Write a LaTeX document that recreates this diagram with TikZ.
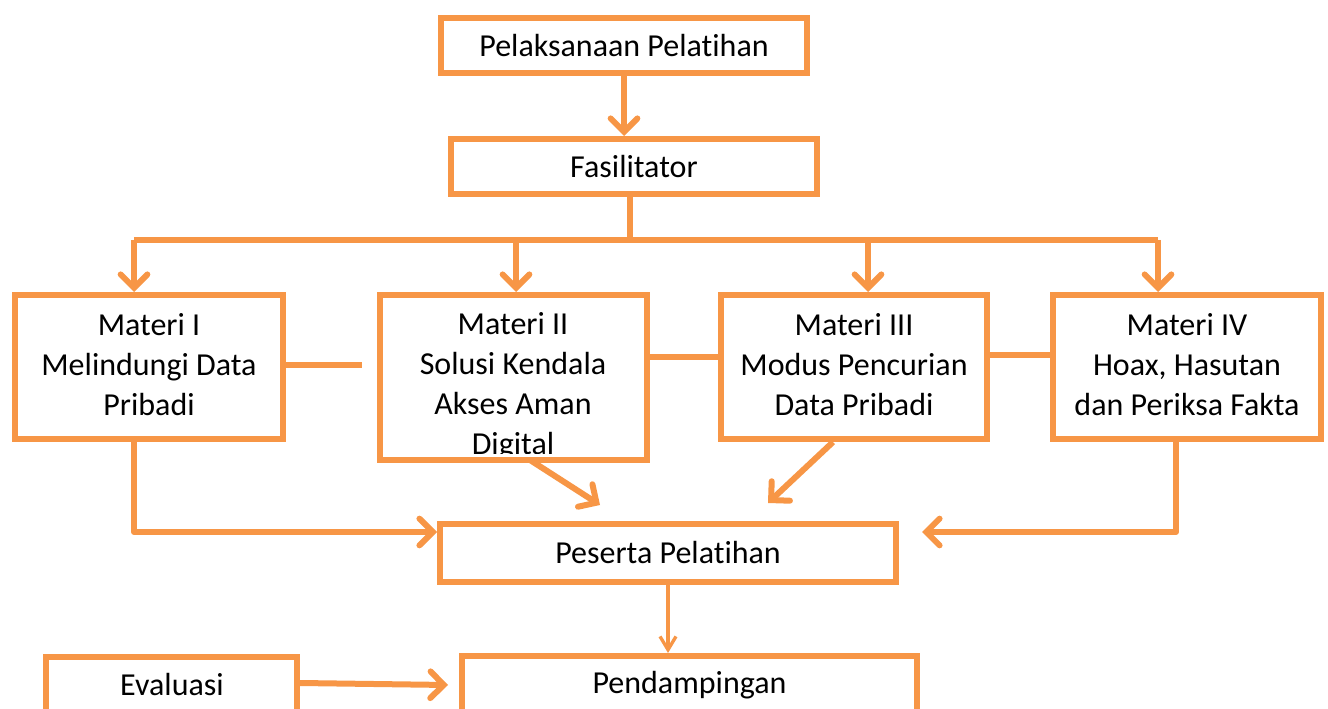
\documentclass[tikz,border=0pt]{standalone}
\usepackage{fontspec}
\setmainfont{Carlito}[Ligatures=NoCommon]
\usetikzlibrary{arrows.meta}
\definecolor{org}{HTML}{F79646}
\begin{document}
\begin{tikzpicture}[x=0.75pt,y=-0.75pt,
  box/.style={draw=org,line width=4.5pt,fill=white,inner sep=0pt,align=center,
    font=\fontsize{24}{30}\selectfont},
  txt/.style={inner sep=0pt,align=center,font=\fontsize{24}{30}\selectfont},
  conn/.style={draw=org,line width=4.5pt,line join=round},
  arr/.style={conn,-{Straight Barb[length=10pt,width=20pt,line cap=round]}},
  thinarr/.style={draw=org,line width=2.5pt,-{Straight Barb[length=10pt,width=12pt]}}]
\useasboundingbox (0,0) rectangle (1328,709);
\clip (0,0) rectangle (1328,709);
% boxes
\node[box,minimum width={366*0.75pt},minimum height={55*0.75pt}] (pel) at (624,45.5) {Pelaksanaan Pelatihan};
\node[box,minimum width={366*0.75pt},minimum height={55*0.75pt}] (fas) at (634,166.5) {Fasilitator};
\node[box,minimum width={268*0.75pt},minimum height={144*0.75pt}] (m1) at (149,367) {};
\node[txt] at (149,365) {Materi I\\Melindungi Data\\Pribadi};
\node[box,minimum width={267*0.75pt},minimum height={165*0.75pt}] (m2) at (513.5,377.5) {};
\begin{scope}
\clip (383,298) rectangle (644,453);
\node[txt] at (513,386) {Materi II\\Solusi Kendala\\Akses Aman\\Digital};
\end{scope}
\node[box,minimum width={266*0.75pt},minimum height={144*0.75pt}] (m3) at (854,367) {};
\node[txt] at (854,365) {Materi III\\Modus Pencurian\\Data Pribadi};
\node[box,minimum width={268*0.75pt},minimum height={144*0.75pt}] (m4) at (1187,367) {};
\node[txt] at (1187,365) {Materi IV\\Hoax, Hasutan\\dan Periksa Fakta};
\node[box,minimum width={456*0.75pt},minimum height={58*0.75pt}] (pes) at (668,553) {Peserta Pelatihan};
\node[box,minimum width={455*0.75pt},minimum height={110*0.75pt},anchor=north] (pend) at (689.5,653) {};
\node[txt] at (689.5,685) {Pendampingan};
\node[box,minimum width={251*0.75pt},minimum height={110*0.75pt},anchor=north] (eva) at (171.5,654) {};
\node[txt] at (172,685) {Evaluasi};
% coordinates
\coordinate (br) at (630,240);
\coordinate (m1r) at (362,365);
\coordinate (d2) at (600,505);
\coordinate (d3) at (768,503);
% connectors
\draw[arr] (pel.south) -- (pel.south |- fas.north);
\draw[conn] (fas.south -| br) -- (br);
\draw[conn] (br) -- (134,240) coordinate (b1);
\draw[conn] (br) -- (1158,240) coordinate (b4);
\draw[arr] (b1) -- (b1 |- m1.north);
\draw[arr] (516,240) coordinate (b2) -- (b2 |- m2.north);
\draw[arr] (868,240) coordinate (b3) -- (b3 |- m3.north);
\draw[arr] (b4) -- (b4 |- m4.north);
\draw[conn] (m1.east |- m1r) -- (m1r);
\draw[conn] (m2.east |- 0,357) -- (m3.west |- 0,357);
\draw[conn] (m3.east |- 0,355) -- (1056,355);
\draw[conn,-{Straight Barb[length=10pt,width=20pt,line cap=round]}] (134,439) -- (134,532) -- (pes.west |- 0,532);
\draw[conn,-{Straight Barb[length=10pt,width=20pt,line cap=round]}] (1176,439) -- (1176,532) -- (922,532);
\draw[arr] (530,460) -- (d2);
\draw[arr] (833,442) -- (d3);
\draw[thinarr] (pes.south) -- (pes.south |- pend.north);
\draw[arr] (eva.east |- 0,683) -- (448,685);
\end{tikzpicture}
\end{document}
